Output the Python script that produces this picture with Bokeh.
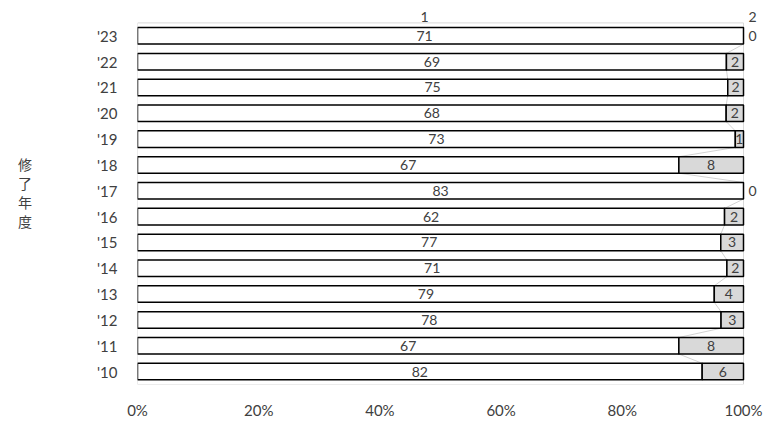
from bokeh.plotting import figure
from bokeh.models import ColumnDataSource, FixedTicker, Range1d, NumeralTickFormatter, LabelSet, Label
from bokeh.core.properties import value
from bokeh.embed import file_html
from bokeh.resources import INLINE

# Completion year (bottom to top) and counts for the two groups
years = ["'10", "'11", "'12", "'13", "'14", "'15", "'16", "'17", "'18", "'19", "'20", "'21", "'22", "'23"]
group1 = [82, 67, 78, 79, 71, 77, 62, 83, 67, 73, 68, 75, 69, 71]
group2 = [6, 8, 3, 4, 2, 3, 2, 0, 8, 1, 2, 2, 2, 0]
series_names = ["1", "2"]
x_ticks = [0, 0.2, 0.4, 0.6, 0.8, 1.0]

FONT = "Lato"
TXT = "#404040"
BAR_H = 0.64
N = len(years)

idx = list(range(N))
totals = [a + b for a, b in zip(group1, group2)]
share1 = [a / t for a, t in zip(group1, totals)]

inside2 = [i for i in idx if group2[i] > 0]
zero2 = [i for i in idx if group2[i] == 0]

src1 = ColumnDataSource(dict(
    y=idx, left=[0] * N, right=share1,
    mid=[s / 2 for s in share1], lab=[str(v) for v in group1],
    dx=[-16 if i == N - 1 else 0 for i in idx],
))
src2 = ColumnDataSource(dict(
    y=[idx[i] for i in inside2], left=[share1[i] for i in inside2], right=[1.0] * len(inside2),
    mid=[(share1[i] + 1) / 2 for i in inside2], lab=[str(group2[i]) for i in inside2],
))
src0 = ColumnDataSource(dict(
    y=[idx[i] for i in zero2], x=[1.0] * len(zero2), lab=[str(group2[i]) for i in zero2],
))

# the ranges reach a little past the plot box so outside labels stay visible
p = figure(width=772, height=421, output_backend="svg", toolbar_location=None,
           x_range=Range1d(0, 1 + 29 / 606), y_range=Range1d(-0.5, N - 0.5 + 23 / 26.5),
           min_border_left=137, min_border_right=0, min_border_top=0, min_border_bottom=27)
p.background_fill_color = "white"
p.border_fill_color = "white"
p.outline_line_color = None
p.xgrid.visible = False
p.ygrid.visible = False

# plot box
p.quad(left=[0], right=[1], bottom=[-0.5], top=[N - 0.5], fill_color=None,
       line_color="#d9d9d9", line_width=1)

# series lines joining the group boundary of neighbouring bars
sx0, sy0, sx1, sy1 = [], [], [], []
for i in range(N - 1):
    sx0.append(share1[i]); sy0.append(idx[i] + BAR_H / 2)
    sx1.append(share1[i + 1]); sy1.append(idx[i + 1] - BAR_H / 2)
p.segment(x0=sx0, y0=sy0, x1=sx1, y1=sy1, line_color="#c8c8c8", line_width=0.8)

p.hbar(y="y", left="left", right="right", height=BAR_H, source=src1,
       fill_color="white", line_color="black", line_width=1.5)
p.hbar(y="y", left="left", right="right", height=BAR_H, source=src2,
       fill_color="#d9d9d9", line_color="black", line_width=1.5)

lab_style = dict(text_font=value(FONT), text_font_size=value("14px"), text_color=value(TXT),
                 text_baseline=value("middle"))
p.add_layout(LabelSet(x="mid", y="y", text="lab", x_offset="dx", source=src1,
                      text_align=value("center"), **lab_style))
p.add_layout(LabelSet(x="mid", y="y", text="lab", source=src2,
                      text_align=value("center"), **lab_style))
p.add_layout(LabelSet(x="x", y="y", text="lab", source=src0, x_offset=5,
                      text_align=value("left"), **lab_style))

# series names on the top bar
top = N - 1
name_style = dict(text_font=FONT, text_font_size="14px", text_color=TXT, text_baseline="middle")
p.add_layout(Label(x=share1[top] / 2, y=top, text=series_names[0], x_offset=-16, y_offset=19,
                   text_align="center", **name_style))
p.add_layout(Label(x=1.0, y=top, text=series_names[1], x_offset=5, y_offset=19,
                   text_align="left", **name_style))

p.xaxis.ticker = FixedTicker(ticks=x_ticks)
p.xaxis.formatter = NumeralTickFormatter(format="0%")
p.xaxis.axis_line_color = None
p.xaxis.major_tick_line_color = None
p.xaxis.minor_tick_line_color = None
p.xaxis.major_label_standoff = 10
p.xaxis.major_label_text_font = FONT
p.xaxis.major_label_text_font_size = "15px"
p.xaxis.major_label_text_color = TXT

p.yaxis.ticker = FixedTicker(ticks=idx)
p.yaxis.major_label_overrides = {i: y for i, y in zip(idx, years)}
p.yaxis.axis_line_color = None
p.yaxis.major_tick_line_color = None
p.yaxis.minor_tick_line_color = None
p.yaxis.major_label_standoff = 14
p.yaxis.major_label_text_font = FONT
p.yaxis.major_label_text_font_size = "15px"
p.yaxis.major_label_text_color = TXT
p.yaxis.axis_label = "修\n了\n年\n度"
p.yaxis.axis_label_orientation = "horizontal"
p.yaxis.axis_label_standoff = 62
p.yaxis.axis_label_text_font = "Noto Sans CJK JP"
p.yaxis.axis_label_text_font_style = "normal"
p.yaxis.axis_label_text_font_size = "14px"
p.yaxis.axis_label_text_line_height = 0.95
p.yaxis.axis_label_text_color = TXT

open("out.html", "w").write(file_html(p, INLINE))
